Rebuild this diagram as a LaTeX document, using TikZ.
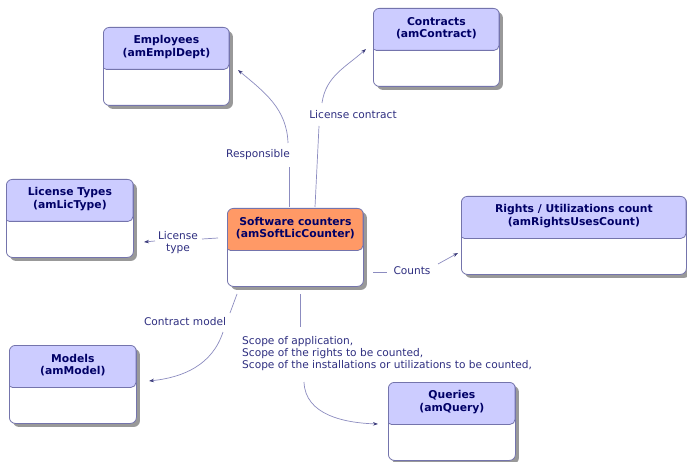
\documentclass[tikz,border=0pt]{standalone}
\usepackage{fontspec}
\setmainfont{DejaVu Sans}
\usetikzlibrary{arrows.meta,shadows,calc}
\definecolor{hdr}{HTML}{CCCCFF}
\definecolor{hdro}{HTML}{FF9966}
\definecolor{bord}{HTML}{7474AC}
\definecolor{ttl}{HTML}{000066}
\definecolor{lbl}{HTML}{2E2E80}
\definecolor{connc}{HTML}{8C8CC0}
\definecolor{tipc}{HTML}{3A3A7A}
\tikzset{
 entity/.style={draw=bord, line width=0.8pt, rounded corners=6pt, fill=white, anchor=north west,
   minimum height=78pt, inner sep=0pt,
   drop shadow={shadow xshift=3.5pt, shadow yshift=-3.5pt, fill=black!40, opacity=1}},
 hdrfill/.style={path picture={
   \filldraw[fill=#1, draw=bord, line width=0.8pt, rounded corners=5pt] ([xshift=-2pt,yshift=2pt]path picture bounding box.north west) rectangle ([xshift=-0.4pt,yshift=-42pt]path picture bounding box.north east);
   \draw[bord, line width=0.8pt] ([xshift=0.4pt,yshift=-30pt]path picture bounding box.north west) -- ([xshift=0.4pt,yshift=2pt]path picture bounding box.north west);}},
 title/.style={font=\fontsize{10.8}{12.5}\selectfont\bfseries, text=ttl, align=center, inner sep=0pt},
 lab/.style={font=\fontsize{10.6}{12}\selectfont, text=lbl, inner sep=0pt},
 link/.style={draw=connc, line width=0.7pt},
 arr/.style={link, -{Stealth[length=5pt,width=3.5pt,color=tipc]}},
}
\begin{document}
\begin{tikzpicture}[x=1pt,y=1pt]
\useasboundingbox[fill=white] (0,0) rectangle (687,-462);
% entities
\node[entity, hdrfill=hdr, minimum width=126pt] (empl) at (103,-27) {};
\node[title] (emplT) at ($(empl.north)+(0,-20)$) {Employees\\(amEmplDept)};
\node[entity, hdrfill=hdr, minimum width=126pt] (contr) at (373,-8) {};
\node[title] (contrT) at ($(contr.north)+(0,-20)$) {Contracts\\(amContract)};
\node[entity, hdrfill=hdro, minimum width=136pt] (soft) at (227,-208) {};
\node[title] (softT) at ($(soft.north)+(0,-20)$) {Software counters\\(amSoftLicCounter)};
\node[entity, hdrfill=hdr, minimum width=127pt] (ltyp) at (6,-179) {};
\node[title] (ltypT) at ($(ltyp.north)+(0,-20)$) {License Types\\(amLicType)};
\node[entity, hdrfill=hdr, minimum width=225pt] (rights) at (461,-196) {};
\node[title] (rightsT) at ($(rights.north)+(0,-20)$) {Rights / Utilizations count\\(amRightsUsesCount)};
\node[entity, hdrfill=hdr, minimum width=127pt] (model) at (9,-345) {};
\node[title] (modelT) at ($(model.north)+(0,-20)$) {Models\\(amModel)};
\node[entity, hdrfill=hdr, minimum width=127pt] (query) at (388,-382) {};
\node[title] (queryT) at ($(query.north)+(0,-20)$) {Queries\\(amQuery)};
% labels
\node[lab] (resp) at (258,-155) {Responsible};
\node[lab] (lcon) at (353,-115) {License contract};
\node[lab, align=center] (ltype) at (178,-243) {License\\type};
\node[lab] (cnt) at (412,-271) {Counts};
\node[lab] (cmod) at (185,-322) {Contract model};
\node[lab, align=left, anchor=north west] (scope) at (242,-336) {Scope of application,\\Scope of the rights to be counted,\\Scope of the installations or utilizations to be counted,};
% connector points
\coordinate (r0) at (289,-207); \coordinate (r1) at (289,-167);
\coordinate (r2) at (288,-143); \coordinate (rt) at (238,-70);
\coordinate (c0) at (315,-207); \coordinate (c1) at (319,-126);
\coordinate (c2) at (322,-103); \coordinate (ct) at (366,-49);
\coordinate (t0) at (218,-238); \coordinate (t1) at (202,-239);
\coordinate (t2) at (155,-241); \coordinate (tt) at (144,-242);
\coordinate (k0) at (373,-272); \coordinate (k1) at (387,-272);
\coordinate (k2) at (438,-264); \coordinate (kt) at (458,-253);
\coordinate (m0) at (237,-294); \coordinate (m1) at (230,-313);
\coordinate (m2) at (223,-332); \coordinate (mt) at (149,-381);
\coordinate (s0) at (300,-294); \coordinate (s1) at (300,-327);
\coordinate (s2) at (304,-382); \coordinate (st) at (378,-424);
% connectors
\draw[link] (r0) -- (r1);
\draw[arr] (r2) to[out=92,in=-40] (rt);
\draw[link] (c0) -- (c1);
\draw[arr] (c2) to[out=82,in=-138] (ct);
\draw[link] (t0) -- (t1);
\draw[arr] (t2) -- (tt);
\draw[link] (k0) -- (k1);
\draw[arr] (k2) -- (kt);
\draw[link] (m0) -- (m1);
\draw[arr] (m2) to[out=-108,in=6] (mt);
\draw[link] (s0) -- (s1);
\draw[arr] (s2) to[out=-88,in=178] (st);
\end{tikzpicture}
\end{document}
